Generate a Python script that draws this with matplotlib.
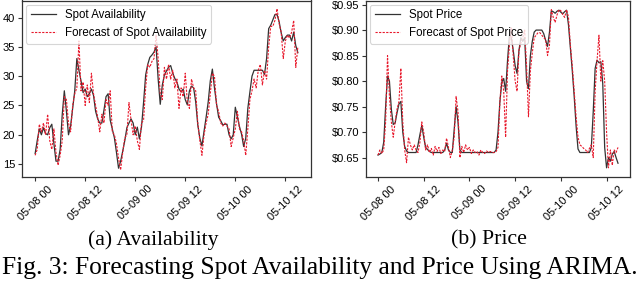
import numpy as np
import pandas as pd
import matplotlib
matplotlib.use("Agg")
from matplotlib import pyplot as plt
import matplotlib.dates as mdates
from matplotlib.ticker import FuncFormatter

# half-hourly samples, 05-08 00:00 .. 05-10 15:00
start = "2018-05-08 00:00"
n_points = 127

avail_actual = [
    16.8, 19.0, 21.0, 20.0, 21.2, 20.2, 20.0, 21.2, 21.8, 18.5,
    15.5, 15.5, 17.5, 23.5, 27.5, 24.0, 20.0, 21.5, 24.5, 27.5,
    33.0, 31.0, 29.2, 27.2, 27.8, 26.5, 27.0, 27.8, 26.7, 24.0,
    22.7, 22.0, 22.0, 24.2, 26.5, 27.0, 22.5, 21.0, 19.5, 17.0,
    14.3, 15.5, 17.2, 19.0, 21.2, 22.0, 22.7, 22.0, 20.0, 21.3,
    19.3, 21.3, 25.5, 30.2, 32.0, 33.2, 33.6, 34.1, 35.0, 29.5,
    25.2, 28.5, 30.2, 30.9, 31.5, 31.8, 30.5, 29.6, 29.0, 27.8,
    27.3, 27.8, 26.0, 25.1, 27.5, 28.3, 28.0, 25.6, 21.7, 19.4,
    18.1, 20.6, 23.0, 25.6, 29.2, 31.2, 28.0, 25.3, 23.0, 22.4,
    21.7, 21.8, 21.8, 20.0, 19.3, 20.0, 24.7, 23.0, 21.4, 20.1,
    18.0, 19.4, 24.5, 27.3, 30.0, 31.0, 31.0, 31.0, 31.0, 31.0,
    30.3, 33.0, 38.1, 38.7, 39.6, 40.5, 40.5, 39.3, 37.4, 36.0,
    36.6, 37.0, 37.0, 36.0, 37.5, 35.2, 34.0,
]
avail_forecast = [
    16.5, 17.5, 21.8, 20.5, 22.0, 20.0, 23.5, 19.0, 17.5, 21.0,
    17.0, 14.8, 16.5, 19.0, 26.5, 26.0, 22.0, 20.5, 25.0, 27.0,
    28.0, 36.0, 27.5, 29.0, 25.0, 28.5, 25.5, 30.5, 27.0, 25.0,
    23.0, 20.5, 23.5, 22.0, 26.0, 25.0, 27.5, 20.5, 20.0, 18.5,
    16.0, 14.0, 17.0, 19.5, 20.0, 25.5, 22.5, 20.0, 21.5, 19.0,
    17.5, 22.0, 22.5, 28.0, 32.0, 31.5, 32.5, 33.0, 37.0, 33.0,
    27.0, 26.0, 31.5, 29.5, 32.0, 29.5, 31.0, 28.0, 29.5, 24.5,
    28.0, 26.5, 30.5, 25.5, 24.5, 29.5, 28.0, 27.5, 22.0, 19.0,
    16.5, 20.0, 22.0, 23.5, 27.0, 30.5, 30.0, 25.0, 24.0, 22.0,
    21.5, 22.0, 21.5, 21.0, 18.0, 19.5, 21.0, 24.0, 21.0, 20.5,
    19.0, 16.5, 21.0, 26.0, 27.5, 29.5, 28.0, 31.0, 32.0, 28.5,
    31.0, 29.5, 35.0, 38.5, 38.5, 39.5, 41.5, 39.0, 37.5, 33.0,
    36.0, 37.0, 36.5, 37.5, 39.5, 31.5, 35.0,
]

price_actual = [
    0.655, 0.657, 0.660, 0.680, 0.750, 0.810, 0.800, 0.745, 0.715, 0.718,
    0.738, 0.755, 0.760, 0.700, 0.672, 0.663, 0.660, 0.660, 0.660, 0.660,
    0.660, 0.675, 0.695, 0.713, 0.690, 0.670, 0.666, 0.662, 0.660, 0.660,
    0.660, 0.660, 0.660, 0.660, 0.660, 0.665, 0.678, 0.665, 0.660, 0.660,
    0.705, 0.750, 0.720, 0.665, 0.660, 0.660, 0.660, 0.660, 0.660, 0.660,
    0.660, 0.660, 0.660, 0.660, 0.660, 0.660, 0.660, 0.660, 0.660, 0.660,
    0.660, 0.660, 0.665, 0.700, 0.760, 0.798, 0.805, 0.780, 0.840, 0.890,
    0.885, 0.860, 0.830, 0.815, 0.860, 0.885, 0.878, 0.885, 0.800, 0.785,
    0.850, 0.878, 0.896, 0.900, 0.900, 0.900, 0.900, 0.893, 0.880, 0.868,
    0.895, 0.938, 0.936, 0.933, 0.937, 0.939, 0.935, 0.932, 0.936, 0.939,
    0.910, 0.865, 0.820, 0.770, 0.712, 0.667, 0.660, 0.660, 0.660, 0.660,
    0.660, 0.660, 0.670, 0.740, 0.825, 0.841, 0.836, 0.838, 0.795, 0.670,
    0.630, 0.650, 0.643, 0.657, 0.662, 0.650, 0.639,
]
price_forecast = [
    0.655, 0.665, 0.658, 0.665, 0.720, 0.850, 0.770, 0.720, 0.690, 0.720,
    0.745, 0.760, 0.825, 0.720, 0.665, 0.640, 0.690, 0.675, 0.665, 0.675,
    0.665, 0.660, 0.680, 0.720, 0.700, 0.665, 0.675, 0.660, 0.668, 0.655,
    0.672, 0.662, 0.670, 0.658, 0.665, 0.662, 0.688, 0.670, 0.650, 0.665,
    0.690, 0.770, 0.740, 0.650, 0.672, 0.660, 0.675, 0.665, 0.670, 0.658,
    0.665, 0.660, 0.662, 0.655, 0.665, 0.660, 0.658, 0.663, 0.660, 0.662,
    0.660, 0.660, 0.662, 0.670, 0.760, 0.810, 0.780, 0.690, 0.820, 0.870,
    0.905, 0.850, 0.800, 0.780, 0.860, 0.875, 0.885, 0.900, 0.830, 0.730,
    0.820, 0.855, 0.885, 0.890, 0.895, 0.895, 0.890, 0.885, 0.882, 0.850,
    0.870, 0.940, 0.925, 0.915, 0.930, 0.940, 0.938, 0.930, 0.925, 0.940,
    0.925, 0.870, 0.830, 0.780, 0.730, 0.690, 0.675, 0.672, 0.668, 0.665,
    0.660, 0.668, 0.675, 0.650, 0.780, 0.840, 0.890, 0.800, 0.840, 0.800,
    0.700, 0.630, 0.665, 0.635, 0.665, 0.660, 0.670,
]

panels = [
    ("Spot Availability", avail_actual, avail_forecast, "(a) Availability"),
    ("Spot Price", price_actual, price_forecast, "(b) Price"),
]

times = pd.date_range(start, periods=n_points, freq="30min")

plt.rcParams["font.family"] = ["Liberation Sans", "DejaVu Sans"]
plt.rcParams["font.size"] = 8

fig = plt.figure(figsize=(6.4, 2.86), dpi=100)
ax_a = fig.add_axes([22 / 640, 1 - 177 / 286, 289 / 640, 176.5 / 286])
ax_b = fig.add_axes([366 / 640, 1 - 177 / 286, 264 / 640, 176.5 / 286])

for ax, (name, actual, forecast, caption) in zip([ax_a, ax_b], panels):
    ax.plot(times, actual, color="#333333", lw=0.9, label=name)
    ax.plot(times, forecast, color="#e8192c", lw=0.8, ls=(0, (2, 1.2)),
            label="Forecast of " + name)
    ax.xaxis.set_major_locator(mdates.HourLocator(byhour=[0, 12]))
    ax.xaxis.set_major_formatter(mdates.DateFormatter("%m-%d %H"))
    ax.tick_params(axis="both", length=3, width=0.8, color="#333333",
                   labelsize=8, pad=2)
    for lbl in ax.get_xticklabels():
        lbl.set_rotation(45)
        lbl.set_ha("center")
    for sp in ax.spines.values():
        sp.set_color("#333333")
        sp.set_linewidth(0.9)
    leg = ax.legend(loc="upper left", fontsize=8.3, frameon=True,
                    borderaxespad=0.35, handlelength=2.2)
    leg.get_frame().set_edgecolor("#cccccc")
    leg.get_frame().set_linewidth(0.8)

ax_a.set_ylim(12.8, 42.9)
ax_a.set_yticks([15, 20, 25, 30, 35, 40])
ax_b.set_ylim(0.612, 0.958)
ax_b.set_yticks([0.65, 0.70, 0.75, 0.80, 0.85, 0.90, 0.95])
ax_b.yaxis.set_major_formatter(FuncFormatter(lambda v, p: "\\$%.2f" % v))

fig.text(153 / 640, 1 - 240 / 286, "(a) Availability", ha="center",
         va="center", family="Liberation Serif", fontsize=15.7)
fig.text(489 / 640, 1 - 240 / 286, "(b) Price", ha="center",
         va="center", family="Liberation Serif", fontsize=15.7)
fig.text(320 / 640, 1 - 268 / 286,
         "Fig. 3: Forecasting Spot Availability and Price Using ARIMA.",
         ha="center", va="center", family="Liberation Serif", fontsize=18.4)

fig.savefig("out.png", dpi=100)
